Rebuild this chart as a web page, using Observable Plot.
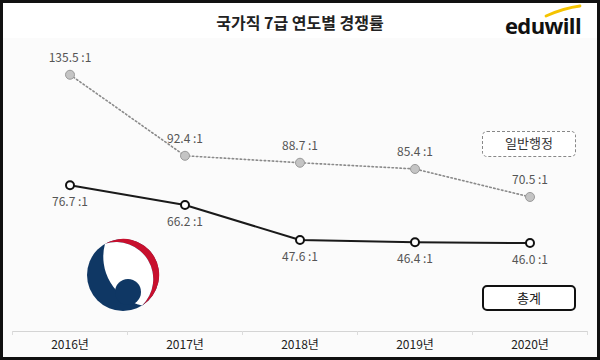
<!DOCTYPE html>
<html><head><meta charset="utf-8">
<script src="https://cdn.jsdelivr.net/npm/d3@7"></script>
<script src="https://cdn.jsdelivr.net/npm/@observablehq/plot@0.6"></script>
<style>
html,body{margin:0;padding:0;background:#fff;}
#wrap{position:relative;width:600px;height:360px;box-sizing:border-box;border:3px solid #111;background:#fff;overflow:hidden;font-family:"Noto Sans CJK KR","Noto Sans",sans-serif;}
#title{position:absolute;left:0;top:9px;width:594px;text-align:center;font-size:16px;line-height:20px;font-weight:700;color:#222;}
#chart{position:absolute;left:0;top:35px;}
.lg{position:absolute;box-sizing:border-box;width:94px;height:26px;border-radius:5px;text-align:center;font-size:13px;line-height:22px;color:#333;background:#fff;}
#lg1{left:479px;top:128px;border:1.5px dashed #888;}
#lg2{left:479px;top:282px;border:2px solid #111;color:#222;}
#deco{position:absolute;left:-3px;top:-3px;pointer-events:none;}
</style></head>
<body>
<div id="wrap">
  <div id="title">국가직 7급 연도별 경쟁률</div>
  <div id="chart"></div>
  <div class="lg" id="lg1">일반행정</div>
  <div class="lg" id="lg2">총계</div>
  <svg id="deco" width="600" height="360" viewBox="0 0 600 360">
    <!-- eduwill logo -->
    <path d="M546,16 Q564,8 580,6" fill="none" stroke="#f5c400" stroke-width="2.8" stroke-linecap="round"/>
    <text x="543" y="34" text-anchor="middle" font-family="'Open Sans','DejaVu Sans',sans-serif" font-weight="700" font-size="22" letter-spacing="-0.6" fill="#111">eduwill</text>
    <!-- emblem -->
    <circle cx="123" cy="275" r="36" fill="#0f3764"/>
    <path d="M105,243.8 A36,36 0 0 1 142.1,305.5 A37,37 0 0 0 105,243.8 Z" fill="#c8102e"/>
    <path d="M105,243.8 A37,37 0 0 1 142.1,305.5 A50,50 0 0 1 105,243.8 Z" fill="#fff"/>
    <circle cx="128" cy="292" r="13" fill="#0f3764"/>
  </svg>
</div>
<script>
const years = ["2016년", "2017년", "2018년", "2019년", "2020년"];
const generalAdmin = [135.5, 92.4, 88.7, 85.4, 70.5];
const total = [76.7, 66.2, 47.6, 46.4, 46.0];

const gData = years.map((y, i) => ({year: y, v: generalAdmin[i]}));
const tData = years.map((y, i) => ({year: y, v: total[i]}));
const fmt = v => v.toFixed(1) + " :1";

const plot = Plot.plot({
  width: 594,
  height: 319,
  marginLeft: 9,
  marginRight: 10,
  marginTop: 9,
  marginBottom: 28,
  style: {background: "#fbfbfb", fontFamily: "'Noto Sans CJK KR','Noto Sans',sans-serif", fontSize: "12px", color: "#222"},
  x: {type: "band", domain: years, paddingInner: 0, paddingOuter: 0},
  y: {domain: [0, 150], axis: null},
  marks: [
    Plot.ruleY([0], {dy: 2, stroke: "#d4d4d4", strokeWidth: 1}),
    Plot.ruleX(years, {x: d => d, dx: -57.5, y1: 0, y2: 0, dy: 2, insetBottom: -4, stroke: "#dcdcdc"}),
    Plot.ruleX([years[years.length - 1]], {x: d => d, dx: 57.5, y1: 0, y2: 0, dy: 2, insetBottom: -4, stroke: "#dcdcdc"}),
    Plot.axisX({tickSize: 0, tickPadding: 11, fontSize: 12, fill: "#222", fontWeight: 400, label: null}),
    Plot.line(gData, {x: "year", y: "v", stroke: "#8a8a8a", strokeWidth: 1.6, strokeDasharray: "1.5 2.5"}),
    Plot.line(tData, {x: "year", y: "v", stroke: "#1a1a1a", strokeWidth: 2}),
    Plot.dot(gData, {x: "year", y: "v", r: 4.5, fill: "#c4c4c4", stroke: "#9a9a9a", strokeWidth: 1}),
    Plot.dot(tData, {x: "year", y: "v", r: 4, fill: "#fff", stroke: "#111", strokeWidth: 2}),
    Plot.text(gData, {x: "year", y: "v", text: d => fmt(d.v), dy: -17, fill: "#555", fontSize: 12}),
    Plot.text(tData, {x: "year", y: "v", text: d => fmt(d.v), dy: 17, fill: "#555", fontSize: 12})
  ]
});
document.getElementById("chart").appendChild(plot);
</script>
</body></html>
